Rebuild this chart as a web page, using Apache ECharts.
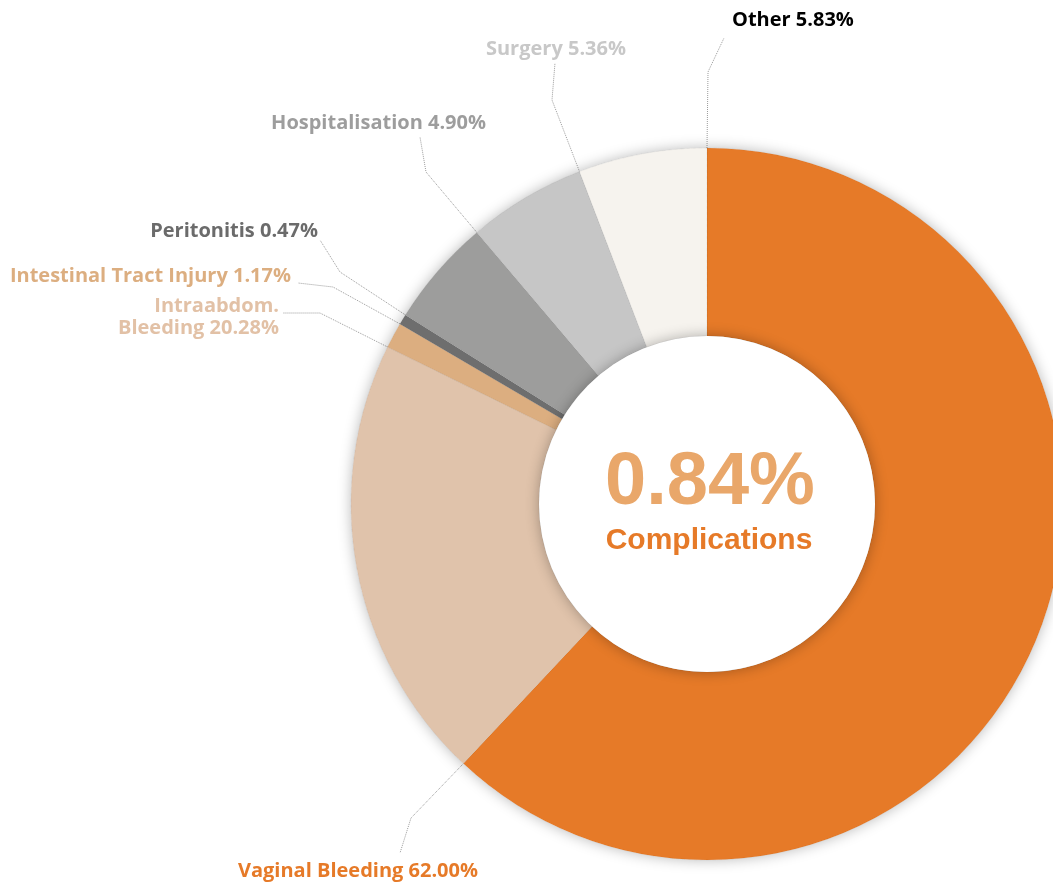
<!DOCTYPE html>
<html>
<head>
<meta charset="utf-8">
<script src="https://cdn.jsdelivr.net/npm/echarts@6/dist/echarts.min.js"></script>
<style>
  html, body { margin: 0; padding: 0; background: #fff; }
  #pie { width: 1053px; height: 883px; }
</style>
</head>
<body>
<div id="pie"></div>
<script>
// 数据
var names = ['Vaginal Bleeding', 'Intraabdom.\nBleeding', 'Intestinal Tract Injury', 'Peritonitis', 'Hospitalisation', 'Surgery', 'Other'];
var values = [62.00, 20.28, 1.17, 0.47, 4.90, 5.36, 5.83];
var sliceColors = ['#e67a28', '#e0c3ab', '#dcae80', '#6e6e6e', '#9d9d9c', '#c6c6c6', '#f6f3ee'];
var labelColors = ['#e67a28', '#e2c1a6', '#dcae80', '#6b6b6b', '#9d9d9d', '#c8c8c8', '#000000'];
var totalRate = '0.84%';
var totalLabel = 'Complications';

// 布局
var cx = 707, cy = 504, rIn = 168, rOut = 356;
// 标签位置 [x, y, align] 以及引导线中间点
var labelPos = [
  [478, 871, 'right'], [279, 317, 'right'], [291, 276, 'right'], [318, 231, 'right'],
  [486, 123, 'right'], [626, 49, 'right'], [732, 20, 'left']
];
var lineMid = [
  [[411, 818], [400, 853]], [[320, 313], [283, 313]], [[333, 287], [298, 283]], [[340, 272], [320, 240]],
  [[426, 172], [420, 137]], [[552, 100], [555, 63]], [[708, 72], [724, 38]]
];

// 每块扇区结束角处的外缘点（引导线端点）
var sum = values.reduce(function (a, b) { return a + b; }, 0);
var anchors = [];
var acc = 0;
values.forEach(function (v) {
  acc += v;
  var ang = (90 - acc / sum * 360) * Math.PI / 180;
  anchors.push([cx + rOut * Math.cos(ang), cy - rOut * Math.sin(ang)]);
});

var myChartPie = echarts.init(document.getElementById('pie'), null, { renderer: 'canvas' });

option = {
  animation: false,
  series: [
    // 阴影底
    {
      type: 'pie',
      silent: true,
      center: [cx, cy],
      radius: [rIn, rOut],
      label: { show: false },
      labelLine: { show: false },
      itemStyle: {
        color: '#ffffff',
        shadowBlur: 14,
        shadowColor: 'rgba(0,0,0,0.28)'
      },
      data: [{ value: 1 }]
    },
    {
      type: 'pie',
      center: [cx, cy],
      radius: [rIn, rOut],
      startAngle: 90,
      clockwise: true,
      avoidLabelOverlap: false,
      itemStyle: {
        borderColor: 'rgba(0,0,0,0.18)',
        borderWidth: 0.6,
        borderType: 'dotted'
      },
      label: {
        show: true,
        position: 'outside',
        fontFamily: '"Open Sans"',
        fontWeight: 'bold',
        fontSize: 20,
        lineHeight: 22,
        formatter: function (p) {
          return p.name + ' ' + p.value.toFixed(2) + '%';
        }
      },
      labelLine: {
        show: true,
        smooth: false,
        lineStyle: { color: '#9a9a9a', width: 1, type: 'dotted' }
      },
      labelLayout: function (params) {
        var i = params.dataIndex;
        var pos = labelPos[i];
        return {
          x: pos[0],
          y: pos[1],
          align: pos[2],
          verticalAlign: 'middle',
          labelLinePoints: [anchors[i], lineMid[i][0], lineMid[i][1]]
        };
      },
      data: names.map(function (n, i) {
        return {
          name: n,
          value: values[i],
          itemStyle: { color: sliceColors[i] },
          label: { color: labelColors[i], align: labelPos[i][2] }
        };
      })
    }
  ],
  graphic: [
    {
      type: 'circle',
      z: 100,
      shape: { cx: cx, cy: cy, r: rIn },
      style: {
        fill: '#ffffff',
        shadowBlur: 14,
        shadowColor: 'rgba(0,0,0,0.3)'
      },
      silent: true
    },
    {
      type: 'text',
      z: 101,
      x: cx + 3,
      y: 484,
      style: {
        text: totalRate,
        fill: '#e9a76a',
        font: 'bold 74px "Liberation Sans", Arial, sans-serif',
        align: 'center',
        verticalAlign: 'middle'
      }
    },
    {
      type: 'text',
      z: 101,
      x: cx + 2,
      y: 541,
      style: {
        text: totalLabel,
        fill: '#e67a28',
        font: 'bold 30px "Liberation Sans", Arial, sans-serif',
        align: 'center',
        verticalAlign: 'middle'
      }
    }
  ]
};

myChartPie.setOption(option);
</script>
</body>
</html>
